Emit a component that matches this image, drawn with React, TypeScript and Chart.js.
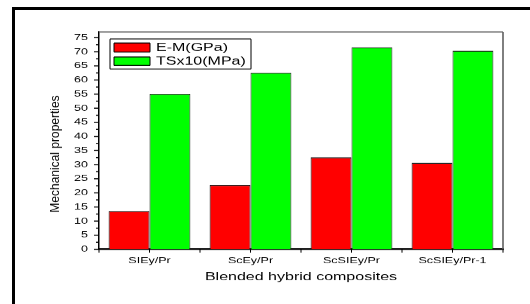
import React, { useEffect, useRef } from "react";
import { Chart, registerables } from "chart.js";
Chart.register(...registerables);

const categories = ["SIEy/Pr", "ScEy/Pr", "ScSIEy/Pr", "ScSIEy/Pr-1"];
const emGPa = [13.6, 22.8, 32.6, 30.6];
const ts10MPa = [55.1, 62.6, 71.6, 70.4];
const seriesLabels = ["E-M(GPa)", "TSx10(MPa)"];
const seriesColors = ["#ff0000", "#00ff00"];
const yTickValues = [0, 5, 10, 15, 20, 25, 30, 35, 40, 45, 50, 55, 60, 65, 70, 75];
const yTitle = "Mechanical properties";
const xTitle = "Blended hybrid composites";
const yMax = 77;
const yStep = 5;

const H = 447;
const S = 304 / H;
const FONT = "'Liberation Sans', Arial, sans-serif";

function hLine(ctx: CanvasRenderingContext2D, x0: number, x1: number, y: number, w: number, c: string) {
  ctx.save();
  ctx.strokeStyle = c;
  ctx.lineWidth = w;
  ctx.beginPath();
  ctx.moveTo(x0, y);
  ctx.lineTo(x1, y);
  ctx.stroke();
  ctx.restore();
}
function vLine(ctx: CanvasRenderingContext2D, x: number, y0: number, y1: number, w: number, c: string) {
  ctx.save();
  ctx.strokeStyle = c;
  ctx.lineWidth = w;
  ctx.beginPath();
  ctx.moveTo(x, y0);
  ctx.lineTo(x, y1);
  ctx.stroke();
  ctx.restore();
}

const decor = {
  id: "decor",
  afterDraw(chart: any) {
    const ctx: CanvasRenderingContext2D = chart.ctx;
    const { left, right, top, bottom } = chart.chartArea;
    const ys = chart.scales.y;
    const xs = chart.scales.x;
    // top and right frame
    hLine(ctx, left, right, top, 1.6, "#606060");
    vLine(ctx, right, top, bottom, 1.6, "#606060");
    // y ticks (major + minor)
    const lastTick = yTickValues[yTickValues.length - 1];
    for (let v = 0; v <= lastTick + 1e-6; v += yStep / 2) {
      const py = ys.getPixelForValue(v);
      const major = Math.abs(v % yStep) < 1e-6;
      hLine(ctx, left - (major ? 5 : 3), left, py, 1.5, "#000");
    }
    // x ticks at centers and boundaries
    const n = categories.length;
    for (let i = 0; i < n; i++) {
      const c = xs.getPixelForValue(i);
      vLine(ctx, c, bottom, bottom + 5, 1, "#000");
    }
    const step = xs.getPixelForValue(1) - xs.getPixelForValue(0);
    for (let i = 0; i <= n; i++) {
      const bx = xs.getPixelForValue(0) - step / 2 + i * step;
      vLine(ctx, bx, bottom, bottom + 5, 1, "#000");
    }
    // legend
    const lx0 = 110, lx1 = 251, ly0 = 39 / S, ly1 = 69 / S;
    ctx.save();
    ctx.fillStyle = "#fff";
    ctx.fillRect(lx0, ly0, lx1 - lx0, ly1 - ly0);
    ctx.restore();
    hLine(ctx, lx0, lx1, ly0, 1.5, "#000");
    hLine(ctx, lx0, lx1, ly1, 1.5, "#000");
    vLine(ctx, lx0, ly0, ly1, 1, "#000");
    vLine(ctx, lx1, ly0, ly1, 1, "#000");
    const rows = [
      { y0: 43 / S, y1: 52 / S },
      { y0: 57 / S, y1: 65.5 / S },
    ];
    chart.data.datasets.forEach((ds: any, i: number) => {
      const r = rows[i];
      ctx.save();
      ctx.fillStyle = ds.backgroundColor;
      ctx.fillRect(114, r.y0, 36, r.y1 - r.y0);
      ctx.restore();
      hLine(ctx, 114, 150, r.y0, 1.5, "#000");
      hLine(ctx, 114, 150, r.y1, 1.5, "#000");
      vLine(ctx, 114, r.y0, r.y1, 1, "#000");
      vLine(ctx, 150, r.y0, r.y1, 1, "#000");
      ctx.save();
      ctx.fillStyle = "#000";
      ctx.font = `16px ${FONT}`;
      ctx.textBaseline = "middle";
      ctx.textAlign = "left";
      ctx.fillText(ds.label, 156, (r.y0 + r.y1) / 2 + 0.5);
      ctx.restore();
    });
    // y title
    ctx.save();
    ctx.translate(56, 154 / S);
    ctx.rotate(-Math.PI / 2);
    ctx.scale(1 / S, 1);
    ctx.fillStyle = "#000";
    ctx.font = `12px ${FONT}`;
    ctx.textAlign = "center";
    ctx.textBaseline = "middle";
    ctx.fillText(yTitle, 0, 0);
    ctx.restore();
  },
};

export default function App() {
  const ref = useRef<HTMLCanvasElement>(null);
  useEffect(() => {
    const chart = new Chart(ref.current as HTMLCanvasElement, {
      type: "bar",
      data: {
        labels: categories,
        datasets: [
          {
            label: seriesLabels[0],
            data: emGPa,
            backgroundColor: seriesColors[0],
            borderColor: "#111",
            borderWidth: { top: 1.5, left: 1, right: 1, bottom: 0 } as any,
            borderSkipped: "start",
            categoryPercentage: 0.81,
            barPercentage: 1,
          },
          {
            label: seriesLabels[1],
            data: ts10MPa,
            backgroundColor: seriesColors[1],
            borderColor: "#1a2a1a",
            borderWidth: { top: 1.5, left: 1, right: 1, bottom: 0 } as any,
            borderSkipped: "start",
            categoryPercentage: 0.81,
            barPercentage: 1,
          },
        ],
      },
      options: {
        responsive: false,
        animation: false,
        devicePixelRatio: 1,
        layout: { padding: { top: 32 / S, right: 27, left: 0, bottom: 0 } },
        plugins: { legend: { display: false }, tooltip: { enabled: false }, title: { display: false } },
        scales: {
          x: {
            type: "category",
            offset: true,
            grid: { display: false, drawTicks: false },
            border: { display: true, color: "#000", width: 2.4 },
            ticks: {
              color: "#000",
              font: { family: FONT, size: 12.5 },
              padding: 9,
              maxRotation: 0,
              autoSkip: false,
            },
            title: {
              display: true,
              text: xTitle,
              color: "#000",
              font: { family: FONT, size: 16 },
              padding: { top: 0, bottom: 30 },
            },
            afterFit: (scale: any) => {
              scale.height = H - 249.3 / S;
            },
          },
          y: {
            type: "linear",
            min: 0,
            max: yMax,
            grid: { display: false, drawTicks: false },
            border: { display: true, color: "#000", width: 1.5 },
            ticks: {
              stepSize: yStep,
              color: "#000",
              font: { family: FONT, size: 12.5 },
              padding: 11,
            },
            afterBuildTicks: (scale: any) => {
              scale.ticks = yTickValues.map((v) => ({ value: v }));
            },
            afterFit: (scale: any) => {
              scale.width = 99;
            },
          },
        },
      },
      plugins: [decor],
    });
    return () => chart.destroy();
  }, []);
  return (
    <div style={{ position: "fixed", left: 0, top: 0, width: 530, height: 304, overflow: "hidden", background: "#fff" }}>
      <div style={{ position: "absolute", left: 0, top: 0, width: 530, height: H, transform: `scaleY(${S})`, transformOrigin: "0 0" }}>
        <canvas ref={ref} width={530} height={H} style={{ width: 530, height: H, display: "block" }} />
      </div>
      <div style={{ position: "absolute", left: 12, top: 7, width: 700, height: 500, border: "3px solid #000" }} />
    </div>
  );
}
